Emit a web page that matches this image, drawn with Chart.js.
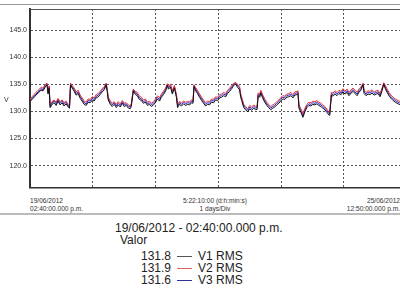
<!DOCTYPE html>
<html>
<head>
<meta charset="utf-8">
<script src="https://cdn.jsdelivr.net/npm/chart.js@4.4.1/dist/chart.umd.min.js"></script>
<style>
  html, body { margin: 0; padding: 0; width: 400px; height: 290px; overflow: hidden; background: #fff; }
  body { position: relative; font-family: "Liberation Sans", Arial, sans-serif; color: #222; }
  #wrap { position: absolute; left: 0; top: 0; width: 402px; height: 195px; }
  .topline { position: absolute; left: 0; top: 4px; width: 400px; border-top: 1px solid #999; }
  .sep { position: absolute; left: 0; top: 213px; width: 400px; border-top: 2px solid #bbb; }
  .small { position: absolute; font-size: 6.6px; color: #333; line-height: 8px; white-space: nowrap; }
  .big { position: absolute; font-size: 12px; color: #222; line-height: 12px; white-space: nowrap; }
  .sw { position: absolute; width: 15px; height: 0; border-top: 1px solid; }
</style>
</head>
<body>
<div class="topline"></div>
<div id="wrap"><canvas id="chart"></canvas></div>
<div class="small" style="left:4px; top:96px; font-size:7px;">V</div>
<div class="small" style="left:30px; top:197px;">19/06/2012<br>02:40:00.000 p.m.</div>
<div class="small" style="left:165px; width:100px; top:197px; text-align:center;">5:22:10:00 (d:h:min:s)<br>1 days/Div</div>
<div class="small" style="right:0; top:197px; text-align:right;">25/06/2012<br>12:50:00.000 p.m.</div>
<div class="sep"></div>
<div class="big" style="left:115px; top:222px;">19/06/2012 - 02:40:00.000 p.m.</div>
<div class="big" style="left:120px; top:234px;">Valor</div>
<div id="legend"></div>

<script>
// 時間（開始からの時間数）
const hours = [
  0.0,0.8,1.9,3.1,4.2,5.0,5.8,6.5,6.9,7.3,
  7.7,8.4,9.2,10.0,10.7,11.5,12.3,13.0,13.8,14.6,
  15.1,15.5,16.1,16.9,17.6,18.4,19.2,19.9,20.7,21.5,
  22.2,23.0,23.8,24.5,25.3,26.1,26.8,27.6,28.4,29.1,
  29.5,29.9,30.7,31.4,32.2,33.0,33.7,34.5,35.3,36.0,
  36.8,37.6,38.3,38.7,39.5,40.3,41.0,41.8,42.6,43.3,
  44.1,44.9,45.6,46.4,47.2,47.9,48.7,49.5,50.2,51.0,
  51.8,52.5,52.9,53.7,54.4,55.2,56.0,56.4,57.1,57.9,
  58.7,59.4,60.2,61.0,61.7,62.3,62.7,63.3,64.0,64.8,
  65.6,66.3,67.1,67.9,68.6,69.4,70.2,70.9,71.7,72.5,
  73.2,74.0,74.8,75.5,76.3,77.1,77.8,78.6,79.4,80.1,
  80.5,80.9,81.7,82.4,83.2,84.0,84.7,85.5,86.3,86.8,
  87.2,87.8,88.2,88.9,89.7,90.5,91.2,92.0,92.8,93.5,
  94.3,95.1,95.8,96.6,97.4,98.1,98.9,99.7,100.5,101.2,
  102.0,102.4,102.8,103.5,104.3,105.1,105.8,106.6,107.4,108.1,
  108.9,109.6,110.4,111.2,111.9,112.7,113.5,114.3,114.6,115.2,
  115.8,116.6,117.3,118.1,118.9,119.6,120.4,121.2,121.9,122.7,
  123.5,124.2,125.0,125.8,126.5,127.3,127.7,128.4,129.2,130.0,
  130.7,131.5,132.3,133.0,133.8,134.6,135.2,135.7,136.5,137.3,
  138.0,138.8,139.6,140.3,141.1,141.9
];

const v1 = [
  131.8,132.2,132.8,133.4,133.9,133.8,134.5,134.9,133.2,134.3,
  130.7,131.3,131.6,131.1,131.9,131.2,131.6,131.0,131.4,130.8,
  130.6,134.9,134.3,133.7,133.0,133.3,132.4,131.9,131.3,131.1,
  131.7,131.6,132.1,131.9,132.5,132.7,133.1,133.6,134.0,134.9,
  133.7,132.1,131.3,130.9,131.3,130.7,131.2,130.8,131.5,130.9,
  131.1,130.6,130.5,130.9,133.8,133.1,132.9,132.2,132.0,131.5,
  131.7,131.1,131.3,130.9,131.2,131.6,132.3,131.9,132.6,133.1,
  133.7,134.8,134.1,134.5,133.2,134.3,132.5,130.7,131.3,131.0,
  131.4,131.1,131.3,131.2,131.6,131.5,134.6,133.8,133.3,132.6,
  132.0,131.5,131.0,131.3,131.2,131.7,131.6,132.1,132.0,132.5,
  132.6,132.9,132.7,133.3,133.7,134.2,134.8,135.0,134.4,134.0,
  132.7,132.0,130.7,130.3,129.9,130.5,130.2,130.6,130.3,130.4,
  132.9,132.6,133.4,132.5,131.7,131.1,130.7,130.3,130.6,130.8,
  131.2,131.5,131.9,132.3,132.2,132.6,132.7,132.9,132.5,133.0,
  133.1,133.3,130.6,129.9,128.9,130.0,130.7,131.1,131.0,131.3,
  131.2,131.4,131.1,130.9,130.6,130.3,129.8,129.3,129.6,133.0,
  132.8,133.2,132.9,133.3,133.1,133.6,133.2,133.5,132.9,133.4,
  133.7,133.3,132.9,133.6,133.9,134.9,133.3,132.9,133.2,133.1,
  133.4,133.0,133.2,133.3,132.7,133.9,135.0,134.3,133.5,132.8,
  132.4,132.0,131.7,131.5,131.3,131.1
];

const v2 = [
  132.0,132.7,133.3,133.9,134.4,134.3,135.0,135.2,133.8,134.7,
  131.2,131.8,132.1,131.7,132.4,131.8,132.1,131.6,131.9,131.3,
  131.0,135.2,134.8,134.3,133.6,133.9,133.0,132.5,131.9,131.7,
  132.3,132.2,132.7,132.5,133.1,133.3,133.7,134.2,134.5,135.2,
  134.2,132.7,131.9,131.5,131.8,131.3,131.8,131.4,132.0,131.5,
  131.6,131.2,131.0,131.4,134.1,133.7,133.5,132.8,132.6,132.1,
  132.3,131.7,131.9,131.5,131.8,132.2,132.9,132.5,133.2,133.7,
  134.3,135.1,134.7,135.0,133.8,134.8,133.0,131.3,131.8,131.6,
  131.9,131.7,131.8,131.8,132.1,132.0,134.9,134.4,133.9,133.2,
  132.6,132.1,131.6,131.9,131.8,132.3,132.2,132.7,132.6,133.1,
  133.2,133.5,133.3,133.9,134.3,134.8,135.2,135.3,135.0,134.6,
  133.3,132.6,131.3,130.9,130.5,131.1,130.8,131.2,130.9,131.0,
  133.4,133.2,133.9,133.1,132.3,131.7,131.3,130.9,131.2,131.4,
  131.8,132.1,132.5,132.9,132.8,133.2,133.3,133.5,133.1,133.6,
  133.7,133.8,131.2,130.5,129.6,130.6,131.3,131.7,131.6,131.9,
  131.8,132.0,131.7,131.5,131.2,130.9,130.4,129.9,130.2,133.5,
  133.4,133.8,133.5,133.9,133.7,134.2,133.8,134.1,133.5,134.0,
  134.3,133.9,133.5,134.2,134.5,135.2,133.9,133.5,133.8,133.7,
  134.0,133.6,133.8,133.9,133.3,134.4,135.3,134.9,134.1,133.4,
  133.0,132.6,132.3,132.1,131.9,131.6
];

const v3 = [
  131.9,132.4,133.0,133.6,134.2,134.0,134.8,135.1,133.5,134.6,
  130.9,131.6,131.9,131.4,132.2,131.5,131.9,131.3,131.7,131.0,
  130.8,135.1,134.6,134.0,133.3,133.6,132.7,132.2,131.6,131.4,
  132.0,131.9,132.4,132.2,132.8,133.0,133.4,133.9,134.3,135.1,
  134.0,132.4,131.6,131.2,131.6,131.0,131.5,131.1,131.8,131.2,
  131.4,130.9,130.8,131.2,134.0,133.4,133.2,132.5,132.3,131.8,
  132.0,131.4,131.6,131.2,131.5,131.9,132.6,132.2,132.9,133.4,
  134.0,135.0,134.4,134.8,133.5,134.6,132.8,131.0,131.6,131.3,
  131.7,131.4,131.6,131.5,131.9,131.8,134.8,134.1,133.6,132.9,
  132.3,131.8,131.3,131.6,131.5,132.0,131.9,132.4,132.3,132.8,
  132.9,133.2,133.0,133.6,134.0,134.5,135.0,135.2,134.7,134.3,
  133.0,132.3,131.0,130.6,130.2,130.8,130.5,130.9,130.6,130.7,
  133.2,132.9,133.7,132.8,132.0,131.4,131.0,130.6,130.9,131.1,
  131.5,131.8,132.2,132.6,132.5,132.9,133.0,133.2,132.8,133.3,
  133.4,133.6,130.9,130.2,129.2,130.3,131.0,131.4,131.3,131.6,
  131.5,131.7,131.4,131.2,130.9,130.6,130.1,129.6,129.9,133.3,
  133.1,133.5,133.2,133.6,133.4,133.9,133.5,133.8,133.2,133.7,
  134.0,133.6,133.2,133.9,134.2,135.1,133.6,133.2,133.5,133.4,
  133.7,133.3,133.5,133.6,133.0,134.2,135.2,134.6,133.8,133.1,
  132.7,132.3,132.0,131.8,131.6,131.4
];

const yTicks = [120, 125, 130, 135, 140, 145];
const xDivs = [0, 24, 48, 72, 96, 120];
const totalHours = 142.17; // 5:22:10:00

const seriesNames = ['V1 RMS', 'V2 RMS', 'V3 RMS'];
const seriesColors = ['#111111', '#e03030', '#2828d8'];
const legendColors = ['#555555', '#e06060', '#303098'];
const cursorValues = ['131.8', '131.9', '131.6'];

function toPoints(vals) {
  return hours.map((h, i) => ({ x: h, y: vals[i] }));
}

// 上枠線
const topBorder = {
  id: 'topBorder',
  afterDraw(chart) {
    const { ctx, chartArea } = chart;
    ctx.save();
    ctx.strokeStyle = '#555';
    ctx.lineWidth = 1;
    ctx.beginPath();
    ctx.moveTo(chartArea.left, chartArea.top + 0.5);
    ctx.lineTo(chartArea.right, chartArea.top + 0.5);
    ctx.stroke();
    ctx.restore();
  }
};

const datasets = [v1, v2, v3].map((vals, i) => ({
  label: seriesNames[i],
  data: toPoints(vals),
  borderColor: seriesColors[i],
  borderWidth: 1,
  pointRadius: 0,
  tension: 0,
  fill: false
}));

new Chart(document.getElementById('chart'), {
  type: 'line',
  data: { datasets },
  options: {
    responsive: true,
    maintainAspectRatio: false,
    animation: false,
    layout: { padding: { top: 9, right: 0, bottom: 0, left: 0 } },
    plugins: { legend: { display: false }, tooltip: { enabled: false } },
    scales: {
      x: {
        type: 'linear',
        min: 0,
        max: totalHours,
        afterBuildTicks: (scale) => { scale.ticks = xDivs.map(v => ({ value: v })); },
        afterFit: (scale) => { scale.height = 2; },
        ticks: { display: false },
        grid: { color: '#555', lineWidth: 1, drawTicks: false },
        border: { display: true, color: '#333', width: 1.5, dash: [2, 2] }
      },
      y: {
        min: 115.9,
        max: 148.9,
        afterBuildTicks: (scale) => { scale.ticks = yTicks.map(v => ({ value: v })); },
        afterFit: (scale) => { scale.width = 30; },
        ticks: {
          color: '#333',
          padding: 3,
          font: { family: 'Liberation Sans', size: 7 },
          callback: (v) => Number(v).toFixed(1)
        },
        grid: { color: '#555', lineWidth: 1, drawTicks: false },
        border: { display: true, color: '#333', width: 2, dash: [2, 2] }
      }
    }
  },
  plugins: [topBorder]
});

// 凡例（カーソル値）
const legend = document.getElementById('legend');
seriesNames.forEach((name, i) => {
  const top = 250 + i * 12;
  legend.innerHTML += `
    <div class="big" style="left:141px; top:${top}px;">${cursorValues[i]}</div>
    <div class="sw" style="left:177px; top:${top + 6}px; border-color:${legendColors[i]};"></div>
    <div class="big" style="left:198px; top:${top}px;">${name}</div>`;
});
</script>
</body>
</html>
